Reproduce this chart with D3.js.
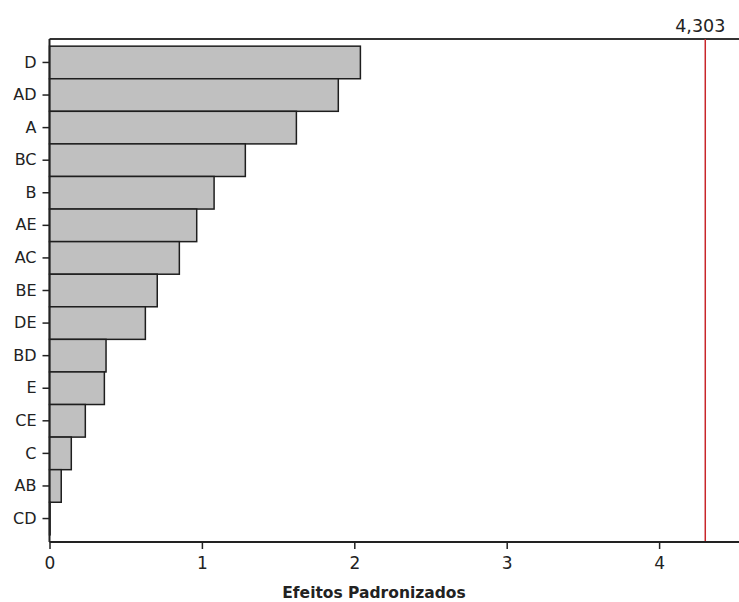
<!DOCTYPE html>
<html>
<head>
<meta charset="utf-8">
<script src="https://cdn.jsdelivr.net/npm/d3@7"></script>
<style>
  body { margin: 0; background: #fff; }
  svg text { font-family: Tahoma, "DejaVu Sans", sans-serif; fill: #222; }
</style>
</head>
<body>
<div id="vis"></div>
<script>
const WIDTH = 739;
const HEIGHT = 602;

// termos do modelo, ordenados pelo efeito
const TERMS = ["D", "AD", "A", "BC", "B", "AE", "AC", "BE", "DE", "BD", "E", "CE", "C", "AB", "CD"];
const EFFECTS = [2.04, 1.895, 1.62, 1.285, 1.08, 0.966, 0.852, 0.707, 0.629, 0.371, 0.36, 0.235, 0.143, 0.077, 0.004];
const X_TICKS = [0, 1, 2, 3, 4];
const CRITICAL = 4.303;
const CRITICAL_LABEL = "4,303";
const X_TITLE = "Efeitos Padronizados";

const LEFT = 49.5, TOP = 39, BOTTOM = 542;

const svg = d3.select("#vis").append("svg")
    .attr("width", WIDTH).attr("height", HEIGHT);

const x = d3.scaleLinear().domain([0, 4]).range([LEFT, 659.1]);
const y = d3.scaleBand().domain(TERMS).range([TOP, BOTTOM]).paddingOuter(0.22).paddingInner(0);

// barras
svg.selectAll(".bar")
    .data(TERMS)
    .enter()
    .append("rect")
    .attr("class", "bar")
    .attr("x", x(0))
    .attr("y", d => y(d))
    .attr("width", (d, i) => x(EFFECTS[i]) - x(0))
    .attr("height", y.bandwidth())
    .attr("fill", "#c0c0c0")
    .attr("stroke", "#1e1e1e")
    .attr("stroke-width", 1.5);

// moldura do gráfico (cortada à direita)
svg.append("line")
    .attr("x1", LEFT).attr("x2", WIDTH + 5)
    .attr("y1", TOP).attr("y2", TOP)
    .attr("stroke", "#333").attr("stroke-width", 2);

// linha de referência
svg.append("line")
    .attr("x1", x(CRITICAL)).attr("x2", x(CRITICAL))
    .attr("y1", TOP).attr("y2", BOTTOM)
    .attr("stroke", "#c8262b").attr("stroke-width", 1.5);

svg.append("text")
    .attr("x", x(CRITICAL) - 5)
    .attr("y", 32)
    .attr("text-anchor", "middle")
    .style("font-size", "17.5px")
    .text(CRITICAL_LABEL);

// eixo x
const xAxis = svg.append("g")
    .attr("transform", `translate(0,${BOTTOM})`)
    .call(d3.axisBottom(x).tickValues(X_TICKS).tickSize(7).tickPadding(8).tickFormat(d3.format("d")));
xAxis.select(".domain").attr("d", `M${LEFT},0H${WIDTH + 5}`).attr("stroke", "#222").attr("stroke-width", 2);
xAxis.selectAll(".tick line").attr("stroke", "#222").attr("stroke-width", 1.5);
xAxis.selectAll("text").style("font-size", "17px").attr("fill", "#222");

// eixo y
const yAxis = svg.append("g")
    .attr("transform", `translate(${LEFT},0)`)
    .call(d3.axisLeft(y).tickSize(7).tickPadding(6));
yAxis.select(".domain").attr("d", `M0,${TOP}V${BOTTOM}`).attr("stroke", "#222").attr("stroke-width", 2);
yAxis.selectAll(".tick line").attr("stroke", "#222").attr("stroke-width", 1.5);
yAxis.selectAll("text").style("font-size", "16px").attr("fill", "#222");

svg.append("text")
    .attr("x", 374)
    .attr("y", 598)
    .attr("text-anchor", "middle")
    .style("font-size", "15.5px")
    .style("font-weight", "bold")
    .text(X_TITLE);
</script>
</body>
</html>
